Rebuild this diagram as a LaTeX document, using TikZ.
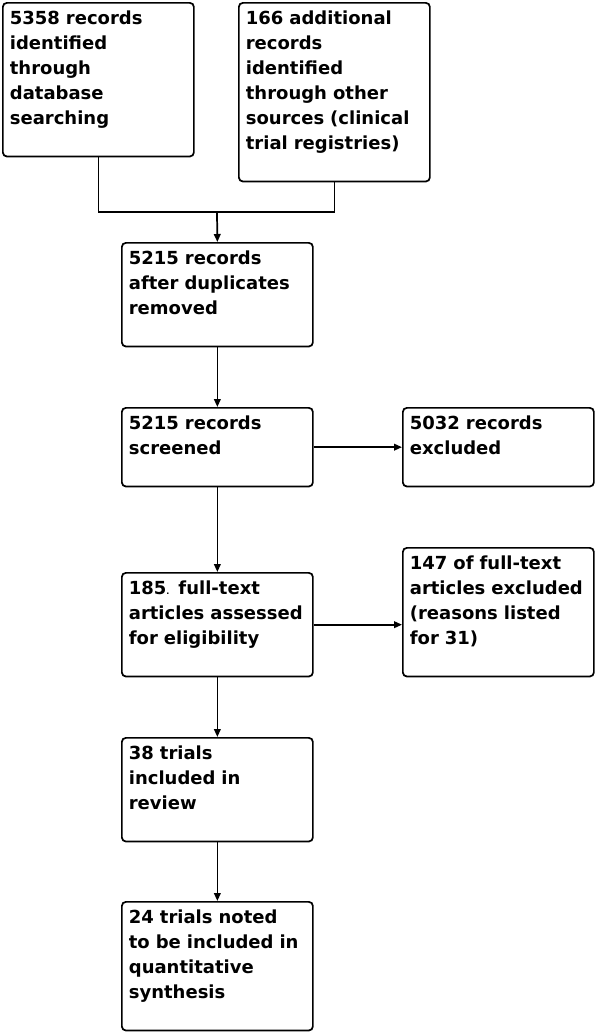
\documentclass[tikz,border=0pt]{standalone}
\usepackage{fontspec}
\setmainfont{DejaVu Sans}
\usepackage{tikz}
\usetikzlibrary{arrows.meta}

\begin{document}
\begin{tikzpicture}[x=0.75pt, y=-0.75pt,
        every node/.style={draw, rounded corners=3pt, line width=1.3pt, anchor=north west,
            text width=132.75pt, inner xsep=5.25pt, inner ysep=5.6pt, align=left,
            font=\fontsize{13.5}{18.75}\selectfont\bfseries},
        arr/.style={-{Triangle[length=6pt,width=5pt]}}]
        \useasboundingbox (0,0) rectangle (596,1033);
        \node (db) at (2,2) {5358 records\\identified\\through\\database\\searching\\\mbox{}};
        \node (other) at (238,2) {166 additional\\records\\identified\\through other\\sources (clinical\\trial registries)\\\mbox{}};
        \node (dup) at (121,242) {5215 records\\after duplicates\\removed\\\mbox{}};
        \node (scr) at (121,407) {5215 records\\screened\\\mbox{}};
        \node (excl) at (402,407) {5032 records\\excluded\\\mbox{}};
        \node (full) at (121,572) {185{\fontsize{6}{6}\selectfont.} full-text\\articles assessed\\for eligibility\\\mbox{}};
        \node (fexcl) at (402,547) {147 of full-text\\articles excluded\\(reasons listed\\for 31)\\\mbox{}};
        \node (incl) at (121,737) {38 trials\\included in\\review\\\mbox{}};
        \node (quant) at (121,901) {24 trials noted\\to be included in\\quantitative\\synthesis\\\mbox{}};
        \coordinate (merge) at (217,212);

        \draw[line width=1.3pt] (db.south) |- (merge);
        \draw[line width=1.3pt] (other.south) |- (merge);
        \draw[line width=1.3pt, arr] (merge) -- (dup.north);
        \draw[line width=1.3pt, arr] (dup) -- (scr);
        \draw[line width=1.3pt, arr] (scr) -- (excl);
        \draw[line width=1.3pt, arr] (scr) -- (full);
        \draw[line width=1.3pt, arr] (full.east) -- (full.east -| fexcl.west);
        \draw[line width=1.3pt, arr] (full) -- (incl);
        \draw[line width=1.3pt, arr] (incl) -- (quant);
    \end{tikzpicture}
\end{document}
